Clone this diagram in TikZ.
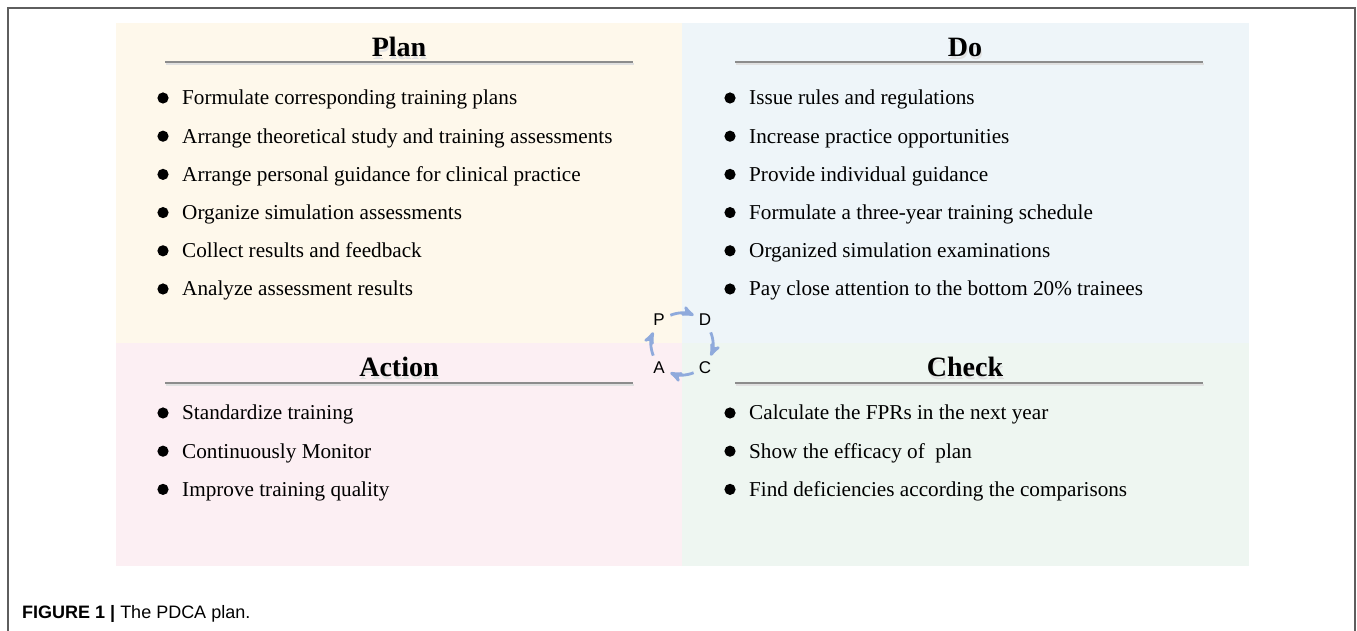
\documentclass[tikz,border=0pt]{standalone}
\usepackage{fontspec}
\setmainfont{Liberation Serif}
\setsansfont{Liberation Sans}
\usepackage{tikz}
\usetikzlibrary{arrows,positioning}

\definecolor{planbg}{HTML}{FEF8EB}
\definecolor{dobg}{HTML}{EEF5F9}
\definecolor{actbg}{HTML}{FCEFF3}
\definecolor{chkbg}{HTML}{EEF6F1}
\definecolor{cyc}{HTML}{8FAADC}
\definecolor{frame}{HTML}{5E5E5E}

\begin{document}
\begin{tikzpicture}[x=1pt,y=1pt,>=stealth',node distance=38.2pt,
    item/.style={anchor=base west,inner sep=0pt,font=\fontsize{21.2}{25}\selectfont},
    cyc arrow/.style={->,draw=cyc,line width=2.8pt,shorten >=1pt}]
    \tikzstyle{title}=[anchor=base,inner sep=0pt,font=\fontsize{28}{32}\selectfont\bfseries]
    \tikzstyle{shade}=[title,text=black!12]
    \tikzstyle{rule}=[draw=black!45,line width=1.2pt]
    \tikzstyle{letter}=[inner sep=0pt,font=\fontsize{17}{19}\sffamily]

    \useasboundingbox (0,0) rectangle (1357,631);
    \fill[white] (0,0) rectangle (1357,631);
    \draw[frame,line width=1.6pt] (8,0) -- (8,623) -- (1355,623) -- (1355,0);

    % the four quarters
    \fill[planbg] (116,288) rectangle (682,608);
    \fill[dobg]   (682,288) rectangle (1249,608);
    \fill[actbg]  (116,65)  rectangle (682,288);
    \fill[chkbg]  (682,65)  rectangle (1249,288);

    % headings with their rules
    \node[shade] (plans) at (400,571.5) {Plan};
    \node[shade] (dos)   at (966,571.5) {Do};
    \node[shade] (acts)  at (400,251.5) {Action};
    \node[shade] (chks)  at (966,251.5) {Check};
    \node[title] (plan) at (399,574) {Plan};
    \node[title] (do)   at (965,574) {Do};
    \node[title] (act)  at (399,254) {Action};
    \node[title] (chk)  at (965,254) {Check};
    \foreach \x/\y in {165/569,735/569,165/248,735/248} {
      \draw[black!12,line width=2pt] (\x+1,\y-1.8) -- ++(468,0);
      \draw[rule] (\x,\y) -- ++(468,0);
    }

    % Plan
    \node[item] (p1) at (182,526) {Formulate corresponding training plans};
    \node[item,below=of p1.base west,anchor=base west] (p2) {Arrange theoretical study and training assessments};
    \node[item,below=of p2.base west,anchor=base west] (p3) {Arrange personal guidance for clinical practice};
    \node[item,below=of p3.base west,anchor=base west] (p4) {Organize simulation assessments};
    \node[item,below=of p4.base west,anchor=base west] (p5) {Collect results and feedback};
    \node[item,below=of p5.base west,anchor=base west] (p6) {Analyze assessment results};

    % Do
    \node[item] (d1) at (749,526) {Issue rules and regulations};
    \node[item,below=of d1.base west,anchor=base west] (d2) {Increase practice opportunities};
    \node[item,below=of d2.base west,anchor=base west] (d3) {Provide individual guidance};
    \node[item,below=of d3.base west,anchor=base west] (d4) {Formulate a three-year training schedule};
    \node[item,below=of d4.base west,anchor=base west] (d5) {Organized simulation examinations};
    \node[item,below=of d5.base west,anchor=base west] (d6) {Pay close attention to the bottom 20\% trainees};

    % Action
    \node[item] (a1) at (182,211) {Standardize training};
    \node[item,below=of a1.base west,anchor=base west] (a2) {Continuously Monitor};
    \node[item,below=of a2.base west,anchor=base west] (a3) {Improve training quality};

    % Check
    \node[item] (c1) at (749,211) {Calculate the FPRs in the next year};
    \node[item,below=of c1.base west,anchor=base west] (c2) {Show the efficacy of\ \ plan};
    \node[item,below=of c2.base west,anchor=base west] (c3) {Find deficiencies according the comparisons};

    \foreach \n in {p1,p2,p3,p4,p5,p6,d1,d2,d3,d4,d5,d6,a1,a2,a3,c1,c2,c3}
      \fill ([shift={(-19pt,7pt)}]\n.base west) circle (5.6pt);

    % small cycle in the middle
    \node[letter] (P) at (659,311) {P};
    \node[letter] (D) at (705,311) {D};
    \node[letter] (A) at (659,263) {A};
    \node[letter] (C) at (705,263) {C};
    \coordinate (mid) at (682,287);
    \draw[cyc arrow] ([shift={(112:31)}]mid) arc (112:66:31);
    \draw[cyc arrow] ([shift={(22:31)}]mid) arc (22:-24:31);
    \draw[cyc arrow] ([shift={(-68:31)}]mid) arc (-68:-114:31);
    \draw[cyc arrow] ([shift={(-158:31)}]mid) arc (-158:-204:31);

    \node[anchor=base west,inner sep=0pt,font=\fontsize{18}{22}\sffamily] (caption) at (22,12)
      {\textbf{FIGURE 1 |} The PDCA plan.};
\end{tikzpicture}
\end{document}
